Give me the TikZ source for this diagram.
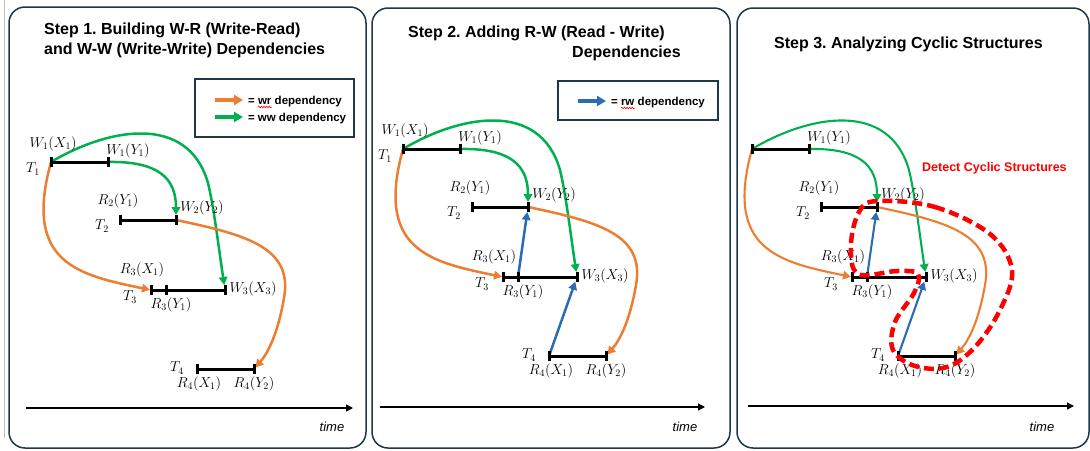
\documentclass[tikz,border=0pt]{standalone}
\usepackage{fontspec}
\setmainfont{Liberation Sans}
\setsansfont{Liberation Sans}
\usetikzlibrary{arrows.meta,decorations.pathmorphing}
\frenchspacing

\definecolor{wrcol}{RGB}{237,125,49}
\definecolor{wwcol}{RGB}{0,176,80}
\definecolor{rwcol}{RGB}{43,108,179}
\definecolor{framecol}{RGB}{30,56,72}

% Common transaction layout: four transactions with their operations
\newcommand\txnbase{%
  \coordinate (a1) at (403,149); \coordinate (b1) at (460,149);
  \coordinate (a2) at (472,207); \coordinate (b2) at (528,207);
  \coordinate (a3) at (503,277); \coordinate (m3) at (518,277); \coordinate (b3) at (577,277);
  \coordinate (a4) at (549,356); \coordinate (b4) at (606,356);
  % write-write dependencies
  \draw[ww, shorten >=5pt] (b1) .. controls (510,148) and (528,165) .. (b2);
  \draw[ww, shorten >=5pt] (a1) .. controls (460,115) and (540,100) .. (560,170)
                                .. controls (566,195) and (570,230) .. (b3);
  % write-read dependencies
  \draw[wr, shorten >=1pt] (a1) .. controls (375,250) and (430,262) .. (a3);
  \draw[wr, shorten >=2pt] (b2) .. controls (600,222) and (645,235) .. (636,285)
                                .. controls (630,320) and (620,340) .. (b4);
  % transactions
  \draw[txn] (a1) -- (b1);
  \draw[txn] (a2) -- (b2);
  \draw[txn] (a3) -- (b3);
  \draw[txn] (a4) -- (b4);
  \foreach \p in {a1,b1,a2,b2,a3,m3,b3,a4,b4}
    \draw[tickmark] ([yshift=5pt]\p) -- ([yshift=-5pt]\p);
  % operation labels
  \node[lbl] (lW1Y1) at (480,138) {$W_1(Y_1)$};
  \node[lbl] (lR2Y1) at (470,188) {$R_2(Y_1)$};
  \node[lbl] (lT2)   at (454,213) {$T_2$};
  \node[lbl] (lW2Y2) at (554,195) {$W_2(Y_2)$};
  \node[lbl] (lR3X1) at (494,257) {$R_3(X_1)$};
  \node[lbl] (lT3)   at (482,284) {$T_3$};
  \node[lbl] (lR3Y1) at (523,292) {$R_3(Y_1)$};
  \node[lbl] (lW3X3) at (605,276) {$W_3(X_3)$};
  \node[lbl] (lT4)   at (529,355) {$T_4$};
  \node[lbl] (lR4X1) at (551,371) {$R_4(X_1)$};
  \node[lbl] (lR4Y2) at (606,371) {$R_4(Y_2)$};
}
\newcommand\firstlabels{%
  \node[lbl] (lW1X1) at (405,131) {$W_1(X_1)$};
  \node[lbl] (lT1)   at (385,156) {$T_1$};
}
\newcommand\readwrite{%
  \draw[rw, shorten >=5pt] (m3) -- (b2);
  \draw[rw, shorten >=5pt] (a4) -- (b3);
  \draw[tickmark] ([yshift=5pt]m3) -- ([yshift=-5pt]m3);
  \draw[tickmark] ([yshift=5pt]a4) -- ([yshift=-5pt]a4);
}

\begin{document}
\begin{tikzpicture}[x=1pt,y=-1pt,
  panel/.style={draw=framecol, line width=1.5pt, rounded corners=16pt},
  legendbox/.style={draw=framecol, line width=1.8pt},
  title/.style={font=\bfseries\fontsize{16}{19}\selectfont, anchor=west, inner sep=0pt},
  lbl/.style={font=\fontsize{14}{16}\selectfont, inner sep=0pt},
  legtxt/.style={font=\bfseries\fontsize{11.5}{14}\selectfont, inner sep=0pt, outer sep=0pt, anchor=base west},
  timetxt/.style={font=\itshape\fontsize{13}{15}\selectfont, inner sep=0pt},
  txn/.style={line width=3pt, black},
  tickmark/.style={line width=3pt, black},
  dep/.style={line width=2.5pt, -{Triangle[length=8pt,width=8.5pt]}},
  wr/.style={dep, draw=wrcol},
  ww/.style={dep, draw=wwcol},
  rw/.style={dep, draw=rwcol},
  legarrow/.style={line width=3.5pt, -{Triangle[length=9pt,width=10pt]}},
  timeaxis/.style={line width=1.3pt, -{Triangle[length=7pt,width=7pt]}},
  spell/.style={draw=red, line width=0.6pt, decorate,
    decoration={snake, segment length=2.6pt, amplitude=0.8pt}},
  cycle/.style={draw=red, line width=4.5pt, dash pattern=on 10pt off 5pt}]

\useasboundingbox (0,0) rectangle (1090,450);
\draw[black!25, line width=0.8pt] (4.5,0) -- (4.5,438);

% ---------- Step 1 ----------
\draw[panel] (9,7) rectangle (366,448);
\node[title] (s1a) at (44,30) {Step 1. Building W-R (Write-Read)};
\node[title] (s1b) at (44,50) {and W-W (Write-Write) Dependencies};
\draw[legendbox] (195,79) rectangle (354,137);
\coordinate (l1s) at (215,100); \coordinate (l1e) at (243,100);
\coordinate (l2s) at (215,117); \coordinate (l2e) at (243,117);
\draw[legarrow, draw=wrcol] (l1s) -- (l1e);
\draw[legarrow, draw=wwcol] (l2s) -- (l2e);
\node[legtxt] (e1) at (248,104) {=\kern3.3pt};
\node[legtxt] (wr1) at (e1.base east) {wr};
\node[legtxt] (d1) at (wr1.base east) {\kern3.3pt dependency};
\draw[spell] ([yshift=-3pt]wr1.south west) -- ([yshift=-3pt]wr1.south east);
\node[legtxt] (e2) at (248,121) {= ww dependency};
\begin{scope}[shift={(-352,13)}, name prefix=p1-]
  \txnbase
  \firstlabels
\end{scope}
\coordinate (t1s) at (26,408); \coordinate (t1e) at (353,408);
\draw[timeaxis] (t1s) -- (t1e);
\node[timetxt] (time1) at (332,427) {time};

% ---------- Step 2 ----------
\draw[panel] (372,8) rectangle (730,448);
\node[title] (s2a) at (408,33) {Step 2. Adding R-W (Read - Write)};
\node[title] (s2b) at (572,53) {Dependencies};
\draw[legendbox] (558,81) rectangle (718,120);
\coordinate (l3s) at (578,101); \coordinate (l3e) at (606,101);
\draw[legarrow, draw=rwcol] (l3s) -- (l3e);
\node[legtxt] (e3) at (611,105) {=\kern3.3pt};
\node[legtxt] (rw3) at (e3.base east) {rw};
\node[legtxt] (d3) at (rw3.base east) {\kern3.3pt dependency};
\draw[spell] ([yshift=-3pt]rw3.south west) -- ([yshift=-3pt]rw3.south east);
\begin{scope}[name prefix=p2-]
  \txnbase
  \readwrite
  \firstlabels
\end{scope}
\coordinate (t2s) at (380,407); \coordinate (t2e) at (705,407);
\draw[timeaxis] (t2s) -- (t2e);
\node[timetxt] (time2) at (685,427) {time};

% ---------- Step 3 ----------
\draw[panel] (737,8) rectangle (1089,448);
\node[title] (s3a) at (774,44) {Step 3. Analyzing Cyclic Structures};
\node[font=\bfseries\fontsize{12.5}{15}\selectfont, text=red, anchor=west, inner sep=0pt]
  (detect) at (922,168) {Detect Cyclic Structures};
\begin{scope}[shift={(349,0)}, name prefix=p3-, dep/.append style={line width=2.1pt}]
  \txnbase
  \readwrite
\end{scope}
% detected cycle
\draw[cycle] plot[smooth cycle, tension=0.6] coordinates {
  (877,201) (935,207) (990,234) (1012,270) (1000,310) (975,347) (947,367)
  (915,366) (893,350) (895,322) (914,293) (918,274) (897,271) (858,274)
  (851,245) (859,212)};
\coordinate (t3s) at (748,406); \coordinate (t3e) at (1074,406);
\draw[timeaxis] (t3s) -- (t3e);
\node[timetxt] (time3) at (1042,427) {time};
\end{tikzpicture}
\end{document}
